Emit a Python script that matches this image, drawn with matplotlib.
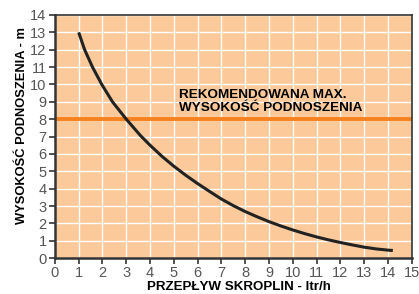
import matplotlib
matplotlib.use("Agg")
import matplotlib.pyplot as plt

flow = [1.0, 1.25, 1.58, 1.97, 2.42, 3.0, 3.6, 4.0, 4.5, 5.0, 5.5, 6.0, 6.5, 7.0, 7.5,
        8.0, 8.5, 9.0, 9.5, 10.0, 10.5, 11.0, 11.5, 12.0, 12.5, 13.0, 13.5, 14.0, 14.2]
height = [13.0, 12.0, 11.0, 10.0, 9.0, 8.0, 7.05, 6.5, 5.86, 5.29, 4.77, 4.29, 3.84, 3.4, 3.02,
          2.68, 2.38, 2.10, 1.85, 1.62, 1.41, 1.22, 1.05, 0.90, 0.76, 0.63, 0.53, 0.46, 0.44]
recommended_max = 8
xticks = list(range(0, 16))
yticks = list(range(0, 15))
xlabel = "PRZEPŁYW SKROPLIN - ltr/h"
ylabel = "WYSOKOŚĆ PODNOSZENIA - m"
note = "REKOMENDOWANA MAX.\nWYSOKOŚĆ PODNOSZENIA"

plt.rcParams['font.family'] = ['Liberation Sans', 'DejaVu Sans']
fig = plt.figure(figsize=(4.19, 2.94), dpi=100)
ax = fig.add_axes([0.131, 0.122, 0.852, 0.827])
ax.set_facecolor('#FCC99A')
ax.set_xlim(0, 15)
ax.set_ylim(0, 14)
ax.set_xticks(xticks)
ax.set_yticks(yticks)
ax.grid(True, color='white', linewidth=1.0)
ax.set_axisbelow(True)
ax.tick_params(axis='both', labelsize=10.5, colors='#333333', labelcolor='#555555',
               length=4, width=1.2, direction='out', pad=2)
for name, s in ax.spines.items():
    s.set_color('#333333')
    s.set_linewidth(1.8 if name in ('left', 'bottom') else 1.2)
ax.axhline(recommended_max, color='#F5821F', linewidth=2.8)
ax.plot(flow, height, color='#222222', linewidth=2.2, solid_capstyle='butt', solid_joinstyle='round')
ax.text(5.2, 9.0, note, fontsize=9.7, fontweight='bold', color='black', va='center', ha='left', linespacing=1.1)
ax.set_xlabel(xlabel, fontsize=9.6, fontweight='bold')
ax.set_ylabel(ylabel, fontsize=9.3, fontweight='bold')
ax.xaxis.set_label_coords(0.515, -0.095)
ax.yaxis.set_label_coords(-0.076, 0.547)
fig.savefig('out.png', dpi=100)
